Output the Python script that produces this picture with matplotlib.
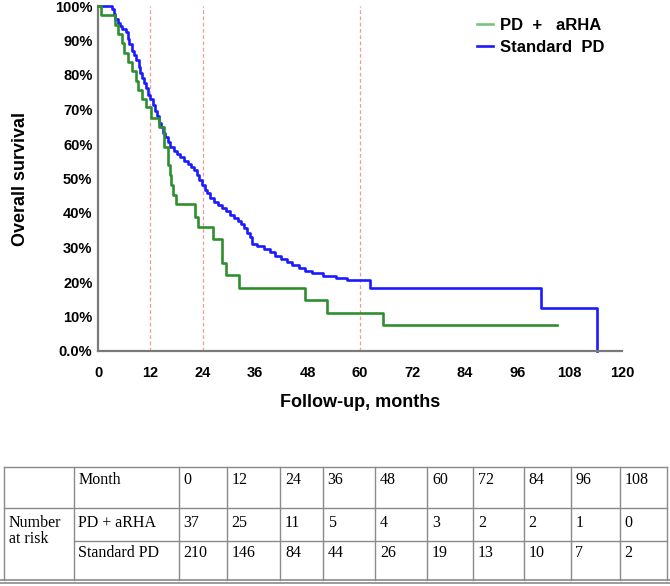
import matplotlib
matplotlib.use('Agg')
import matplotlib.pyplot as plt

# ---------------- data ----------------
green_t = [0, 0.6, 3.9, 4.6, 5.4, 6.0, 6.8, 7.7, 8.6, 9.2, 10.0, 11.1, 12.2, 14.0, 15.0, 16.1,
           16.5, 16.8, 17.2, 17.8, 22.2, 23.0, 26.4, 28.3, 29.4, 32.3, 47.4, 52.4, 65.2, 105.0]
green_s = [100, 97.3, 94.6, 91.9, 89.2, 86.5, 83.8, 81.1, 78.4, 75.7, 73.0, 70.6, 67.4, 64.9, 59.2, 53.9,
           51.0, 48.1, 45.2, 42.5, 38.9, 36.0, 32.4, 25.4, 22.0, 18.2, 14.8, 10.9, 7.5, 7.5]

blue_t = [0, 3.2, 3.6, 4.0, 4.5, 5.0, 5.6, 6.3, 6.8, 7.2, 7.7, 8.2, 8.8, 9.3, 9.6, 10.1, 10.5,
          11.0, 11.5, 12.0, 12.5, 13.0, 13.5, 14.0, 14.4, 14.9, 15.4, 16.0, 16.5, 17.3, 18.0,
          18.8, 19.6, 20.5, 21.3, 22.0, 22.6, 23.2, 23.8, 24.4, 25.0, 25.6, 26.5, 27.5, 28.5,
          29.4, 30.3, 31.2, 32.0, 32.8, 33.5, 34.2, 34.7, 35.2, 36.5, 38.0, 39.5, 40.5, 42.0,
          43.2, 44.5, 46.0, 47.5, 49.0, 51.5, 54.5, 57.0, 62.3, 101.4, 114.2]
blue_s = [100, 99.0, 97.6, 96.2, 95.2, 94.3, 93.3, 92.4, 90.5, 89.0, 87.1, 85.7, 84.3, 82.4, 80.5,
          79.0, 77.6, 76.2, 74.3, 72.9, 71.4, 69.5, 68.1, 66.2, 64.8, 63.3, 61.9, 60.5, 59.0,
          58.1, 57.1, 56.2, 55.2, 54.3, 53.3, 52.4, 51.0, 49.5, 48.1, 46.7, 45.7, 44.3, 43.3,
          42.4, 41.4, 40.5, 39.5, 38.6, 37.6, 36.7, 35.7, 34.3, 32.9, 31.0, 30.5, 29.5, 28.6,
          27.6, 26.7, 25.7, 24.8, 24.0, 23.3, 22.5, 21.8, 21.1, 20.6, 18.2, 12.4, 0]

ref_months = [12, 24, 60]
x_ticks = [0, 12, 24, 36, 48, 60, 72, 84, 96, 108, 120]
y_ticks = [0, 10, 20, 30, 40, 50, 60, 70, 80, 90, 100]
y_ticklabels = ['0.0%', '10%', '20%', '30%', '40%', '50%', '60%', '70%', '80%', '90%', '100%']

series_names = ['PD  +   aRHA', 'Standard  PD']
table_months = ['0', '12', '24', '36', '48', '60', '72', '84', '96', '108']
risk_arha = ['37', '25', '11', '5', '4', '3', '2', '2', '1', '0']
risk_std = ['210', '146', '84', '44', '26', '19', '13', '10', '7', '2']
table_row_labels = ['PD + aRHA', 'Standard PD']

# ---------------- figure ----------------
W, H = 670, 586
fig = plt.figure(figsize=(W / 100, H / 100), dpi=100)
fig.patch.set_facecolor('white')

sans = ['Liberation Sans', 'DejaVu Sans']
serif = ['Liberation Serif', 'DejaVu Serif']

ax = fig.add_axes([98 / W, 1 - 351 / H, (622 - 98) / W, (351 - 6) / H])
ax.set_xlim(0, 120)
ax.set_ylim(0, 100)

for m in ref_months:
    ax.axvline(m, ymin=0, ymax=1, color='#f29a9a', lw=0.9, ls=(0, (3, 2)), zorder=1)

green = '#2f8f2f'
blue = '#1a1aff'
lg, = ax.step(green_t, green_s, where='post', color=green, lw=1.9, zorder=3,
              label=series_names[0], clip_on=False)
lb, = ax.step(blue_t, blue_s, where='post', color=blue, lw=1.9, zorder=2,
              label=series_names[1], clip_on=False)

for s in ['top', 'right']:
    ax.spines[s].set_visible(False)
for s in ['left', 'bottom']:
    ax.spines[s].set_color('#7a7a7a')
    ax.spines[s].set_linewidth(1.6)

ax.set_xticks(x_ticks)
ax.set_xticklabels([str(v) for v in x_ticks], fontsize=10.5, fontweight='bold', family=sans)
ax.set_yticks(y_ticks)
ax.set_yticklabels(y_ticklabels, fontsize=10.5, fontweight='bold', family=sans)
ax.tick_params(axis='x', length=0, pad=11)
ax.tick_params(axis='y', length=0, pad=4)

ax.set_xlabel('Follow-up, months', fontsize=13, fontweight='bold', family=sans, labelpad=10)
ax.set_ylabel('Overall survival', fontsize=13, fontweight='bold', family=sans, labelpad=19)

leg = fig.legend(handles=[lg, lb], loc='upper left', bbox_to_anchor=(470 / W, 1 - 11 / H),
                 frameon=False, prop={'family': sans, 'weight': 'bold', 'size': 12},
                 handlelength=1.0, handletextpad=0.38, labelspacing=0.42, borderaxespad=0)
leg.get_lines()[0].set_color('#7cc47c')

# ---------------- number at risk table ----------------
tx = fig.add_axes([0, 0, 1, 1], facecolor='none')
tx.set_xlim(0, W)
tx.set_ylim(H, 0)
tx.axis('off')

cols = [4, 73.5, 178.6, 226.5, 280, 322.6, 375, 427, 473, 523.5, 570.5, 619.7, 667]
y_top, y_h, y_r, y_bot = 467, 508, 541, 580
lc = '#8a8a8a'
tx.plot([cols[0], cols[-1]], [y_top, y_top], color=lc, lw=1)
tx.plot([cols[0], cols[-1]], [y_h, y_h], color=lc, lw=1)
tx.plot([cols[1], cols[-1]], [y_r, y_r], color=lc, lw=1)
tx.plot([0, W], [y_bot, y_bot], color=lc, lw=1.2)
tx.plot([0, W], [y_bot + 3, y_bot + 3], color=lc, lw=1.2)
for c in cols:
    tx.plot([c, c], [y_top, y_bot], color=lc, lw=1)

fs = 11.5
pad = 5
tx.text(cols[1] + pad, 480, 'Month', fontsize=fs, family=serif, va='center', ha='left')
for i, m in enumerate(table_months):
    tx.text(cols[i + 2] + pad, 480, m, fontsize=fs, family=serif, va='center', ha='left')
tx.text(cols[0] + pad, 523, 'Number', fontsize=fs, family=serif, va='center', ha='left')
tx.text(cols[0] + pad, 539, 'at risk', fontsize=fs, family=serif, va='center', ha='left')
tx.text(cols[1] + pad, 523, table_row_labels[0], fontsize=fs, family=serif, va='center', ha='left')
tx.text(cols[1] + pad, 553, table_row_labels[1], fontsize=fs, family=serif, va='center', ha='left')
for i, v in enumerate(risk_arha):
    tx.text(cols[i + 2] + pad, 523, v, fontsize=fs, family=serif, va='center', ha='left')
for i, v in enumerate(risk_std):
    tx.text(cols[i + 2] + pad, 553, v, fontsize=fs, family=serif, va='center', ha='left')

fig.savefig('out.png', dpi=100, facecolor='white')
